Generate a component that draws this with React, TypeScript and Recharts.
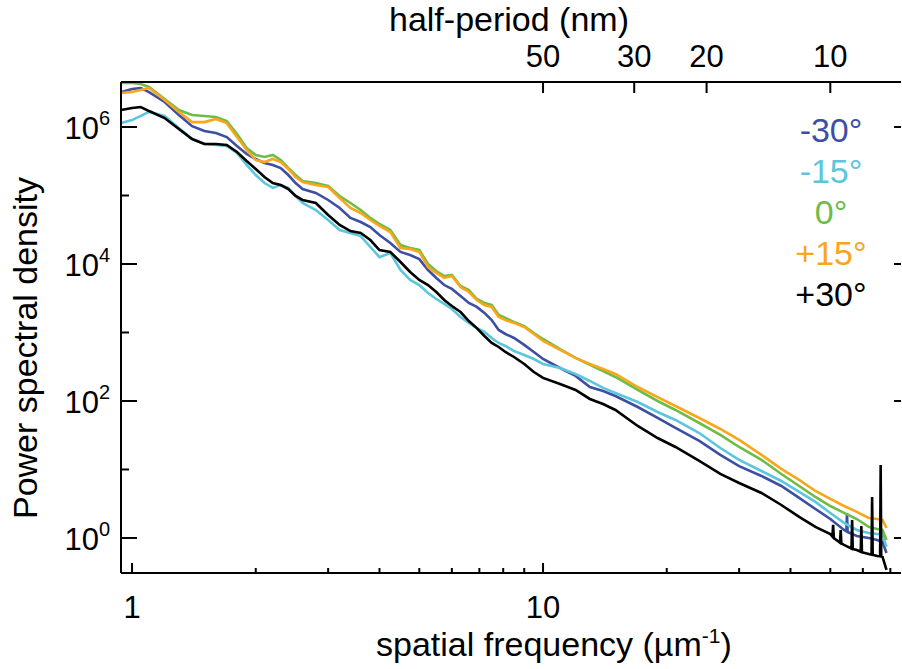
import React from 'react';
import { LineChart, Line, XAxis, YAxis } from 'recharts';

const FONT = '"Liberation Sans", Arial, Helvetica, sans-serif';

// spatial frequency grid (µm^-1)
const FREQ = [
  0.94, 1.0, 1.05, 1.1, 1.2, 1.3, 1.4, 1.5, 1.6, 1.7, 1.8, 1.9, 2.0, 2.1, 2.2, 2.3, 2.4, 2.5, 2.6, 2.8,
  3.0, 3.2, 3.4, 3.6, 3.8, 4.0, 4.25, 4.5, 4.75, 5.0, 5.25, 5.5, 5.75, 6.0, 6.3, 6.6, 6.9, 7.2, 7.5, 7.8,
  8.1, 8.5, 9, 9.5, 10, 11, 12, 13, 14, 15, 17, 19, 21, 24, 27, 30, 34, 38, 42, 46,
  50, 54, 58, 62, 65, 67, 68.5,
];

// power spectral density per tilt angle
const PSD_M30 = [
  3.24e6, 3.59e6, 3.71e6, 3.24e6, 2.32e6, 1.5e6, 1.03e6, 8.75e5, 8.17e5, 7.14e5,
  5.28e5, 4.03e5, 3.41e5, 2.98e5, 2.79e5, 2.52e5, 1.99e5, 1.52e5, 1.24e5, 1.09e5,
  8.6e4, 6.58e4, 4.7e4, 4.1e4, 3.47e4, 2.65e4, 2.03e4, 1.5e4, 1.35e4, 1.18e4,
  8.17e3, 6.25e3, 4.93e3, 4.32e3, 3.41e3, 2.7e3, 2.36e3, 1.93e3, 1.52e3, 1.09e3,
  951, 831, 658, 519, 410, 303, 232, 160, 140, 118,
  81.7, 56.5, 40.4, 26.1, 16.3, 11.2, 8.04, 5.74, 3.84, 2.65,
  1.89, 1.31, 1.07, 1.0, 0.935, 0.875, 0.604,
];
const PSD_M15 = [
  1.14e6, 1.26e6, 1.45e6, 1.66e6, 1.45e6, 9.67e5, 6.68e5, 5.65e5, 5.46e5, 5.28e5,
  4.17e5, 2.79e5, 1.99e5, 1.52e5, 1.29e5, 1.42e5, 1.29e5, 9.84e4, 7.78e4, 6.14e4,
  4.39e4, 3.14e4, 2.84e4, 2.56e4, 1.77e4, 1.26e4, 1.45e4, 8.17e3, 5.84e3, 4.93e3,
  3.77e3, 3.08e3, 2.61e3, 2.2e3, 1.68e3, 1.38e3, 1.16e3, 1.02e3, 831, 703,
  636, 537, 470, 410, 347, 303, 248, 196, 155, 131,
  96.7, 69.1, 52.8, 34.1, 20.6, 13.8, 9.51, 6.79, 4.7, 3.36,
  2.32, 1.66, 1.31, 1.18, 1.14, 1.11, 0.74,
];
const PSD_0 = [
  4.39e6, 4.39e6, 4.25e6, 3.84e6, 2.56e6, 1.77e6, 1.5e6, 1.45e6, 1.4e6, 1.22e6,
  7.9e5, 4.94e5, 3.9e5, 3.65e5, 3.9e5, 3.3e5, 2.52e5, 1.99e5, 1.63e5, 1.52e5,
  1.38e5, 9.84e4, 7.78e4, 6.14e4, 4.7e4, 3.84e4, 3.14e4, 1.89e4, 1.71e4, 1.6e4,
  1.0e4, 7.9e3, 6.68e3, 6.91e3, 4.77e3, 4.17e3, 3.08e3, 2.7e3, 2.52e3, 1.8e3,
  1.63e3, 1.42e3, 1.24e3, 984, 804, 574, 425, 336, 274, 224,
  145, 100, 73.9, 47.7, 31.9, 21.3, 13.8, 8.6, 5.74, 3.97,
  2.93, 2.32, 1.89, 1.45, 1.35, 1.31, 0.935,
];
const PSD_P15 = [
  3.13e6, 3.24e6, 3.47e6, 3.71e6, 2.48e6, 1.66e6, 1.18e6, 1.18e6, 1.31e6, 1.14e6,
  7.14e5, 4.62e5, 3.3e5, 3.08e5, 3.41e5, 3.08e5, 2.44e5, 1.86e5, 1.57e5, 1.42e5,
  1.33e5, 9.2e4, 6.58e4, 5.56e4, 4.39e4, 3.59e4, 2.93e4, 1.71e4, 1.66e4, 1.5e4,
  9.04e3, 7.39e3, 6.25e3, 6.68e3, 4.61e3, 3.9e3, 2.98e3, 2.52e3, 2.36e3, 1.68e3,
  1.52e3, 1.38e3, 1.2e3, 951, 752, 556, 425, 347, 293, 248,
  160, 114, 84.5, 56.5, 39.0, 27.0, 16.3, 10.2, 7.03, 4.85,
  3.71, 2.93, 2.4, 1.96, 1.89, 1.83, 1.4,
];
const PSD_P30 = [
  1.77e6, 1.89e6, 1.96e6, 1.71e6, 1.35e6, 9.35e5, 6.68e5, 5.65e5, 5.65e5, 5.46e5,
  4.32e5, 3.19e5, 2.44e5, 1.86e5, 1.52e5, 1.42e5, 1.24e5, 9.84e4, 8.6e4, 7.78e4,
  5.19e4, 3.71e4, 3.03e4, 2.84e4, 2.24e4, 1.6e4, 1.5e4, 1.07e4, 7.64e3, 5.84e3,
  4.93e3, 3.9e3, 2.98e3, 2.44e3, 1.99e3, 1.47e3, 1.16e3, 889, 703, 614,
  519, 439, 347, 265, 217, 177, 145, 107, 90.4, 73.9,
  43.2, 28.8, 21.3, 13.3, 8.6, 6.35, 4.54, 3.03, 2.03, 1.45,
  1.14, 0.791, 0.668, 0.584, 0.546, 0.528, 0.341,
];

// narrow spikes near the high-frequency end
const M30_SPIKE_F = [54.7, 54.9, 55.1];
const M30_SPIKE_P = [1.25, 2.3, 1.22];
const P30_SPIKE_F = [50.6, 50.8, 51.0, 52.8, 53.0, 53.2, 56.3, 56.5, 56.7, 59.3, 59.5, 59.7, 63.0, 63.2, 63.4, 66.1, 66.3, 66.5];
const P30_SPIKE_P = [1.05, 1.55, 1.0, 0.85, 1.3, 0.83, 0.7, 1.83, 0.69, 0.63, 1.5, 0.62, 0.57, 3.97, 0.57, 0.54, 11.6, 0.54];

const X_MAJOR = [1, 10];
const X_MINOR = [2, 3, 4, 5, 6, 7, 8, 9, 20, 30, 40, 50, 60, 70];
const Y_MAJOR = [1, 1e2, 1e4, 1e6];
const Y_MINOR = [10, 1e3, 1e5];
const HALF_PERIOD_TICKS = [50, 30, 20, 10]; // nm

const makeSeries = (vals: number[], extraF: number[] = [], extraP: number[] = []) =>
  FREQ.map((f, i) => ({ f, psd: vals[i] }))
    .concat(extraF.map((f, i) => ({ f, psd: extraP[i] })))
    .sort((a, b) => a.f - b.f);

const SERIES = [
  { name: '-30°', color: '#3d4fa3', data: makeSeries(PSD_M30, M30_SPIKE_F, M30_SPIKE_P) },
  { name: '-15°', color: '#5cc6dc', data: makeSeries(PSD_M15) },
  { name: '0°', color: '#6cbd45', data: makeSeries(PSD_0) },
  { name: '+15°', color: '#f9a61a', data: makeSeries(PSD_P15) },
  { name: '+30°', color: '#000000', data: makeSeries(PSD_P30, P30_SPIKE_F, P30_SPIKE_P) },
];

const TICK_FONT = 31;
const TITLE_FONT = 34;

const BottomTick = ({ x, y, payload }: any) => {
  const major = X_MAJOR.includes(payload.value);
  return (
    <g>
      <line x1={x} x2={x} y1={y} y2={y - (major ? 10 : 5)} stroke="#000" strokeWidth={2} />
      {major && (
        <text x={x} y={y + 45} textAnchor="middle" fontSize={TICK_FONT} fontFamily={FONT} fill="#000">
          {payload.value}
        </text>
      )}
    </g>
  );
};

const TopTick = ({ x, y, payload }: any) => (
  <g>
    <line x1={x} x2={x} y1={y} y2={y + 11} stroke="#000" strokeWidth={2} />
    <text x={x} y={y - 15} textAnchor="middle" fontSize={TICK_FONT} fontFamily={FONT} fill="#000">
      {Math.round(500 / payload.value)}
    </text>
  </g>
);

const LeftTick = ({ x, y, payload }: any) => {
  const major = Y_MAJOR.includes(payload.value);
  return (
    <g>
      <line x1={x} x2={x + (major ? 16 : 8)} y1={y} y2={y} stroke="#000" strokeWidth={2} />
      {major && (
        <text x={110} y={y + 12} textAnchor="end" fontSize={TICK_FONT} fontFamily={FONT} fill="#000">
          10
          <tspan fontSize={20} dy={-14}>{Math.round(Math.log10(payload.value))}</tspan>
        </text>
      )}
    </g>
  );
};

const RightTick = ({ x, y, payload }: any) =>
  Y_MAJOR.includes(payload.value) ? (
    <line x1={x} x2={x - 7} y1={y} y2={y} stroke="#000" strokeWidth={2} />
  ) : (
    <g />
  );

const X_DOMAIN = [0.94, 74.3];
const Y_DOMAIN = [0.308, 4.54e6];

export default function App() {
  return (
    <div style={{ position: 'absolute', left: 0, top: 0, width: 902, height: 669, background: '#fff' }}>
      <LineChart width={902} height={669} margin={{ top: 81, right: 0, bottom: 95, left: 120 }}>
        <XAxis
          xAxisId="bottom"
          dataKey="f"
          type="number"
          scale="log"
          domain={X_DOMAIN}
          allowDataOverflow
          ticks={[...X_MAJOR, ...X_MINOR].sort((a, b) => a - b)}
          interval={0}
          tick={BottomTick}
          tickLine={false}
          tickSize={0}
          tickMargin={0}
          height={1}
          axisLine={{ stroke: '#000', strokeWidth: 2 }}
        />
        <XAxis
          xAxisId="top"
          orientation="top"
          dataKey="f"
          type="number"
          scale="log"
          domain={X_DOMAIN}
          allowDataOverflow
          ticks={HALF_PERIOD_TICKS.map((hp) => 500 / hp)}
          interval={0}
          tick={TopTick}
          tickLine={false}
          tickSize={0}
          tickMargin={0}
          height={1}
          axisLine={{ stroke: '#000', strokeWidth: 2 }}
        />
        <YAxis
          yAxisId="left"
          type="number"
          scale="log"
          domain={Y_DOMAIN}
          allowDataOverflow
          ticks={[...Y_MAJOR, ...Y_MINOR].sort((a, b) => a - b)}
          interval={0}
          tick={LeftTick}
          tickLine={false}
          tickSize={0}
          tickMargin={0}
          width={1}
          axisLine={{ stroke: '#000', strokeWidth: 2 }}
        />
        <YAxis
          yAxisId="right"
          orientation="right"
          type="number"
          scale="log"
          domain={Y_DOMAIN}
          allowDataOverflow
          ticks={Y_MAJOR}
          interval={0}
          tick={RightTick}
          tickLine={false}
          tickSize={0}
          tickMargin={0}
          width={1}
          axisLine={false}
        />
        {SERIES.map((s) => (
          <Line
            key={s.name}
            xAxisId="bottom"
            yAxisId="left"
            data={s.data}
            dataKey="psd"
            type="linear"
            stroke={s.color}
            strokeWidth={2.6}
            dot={false}
            activeDot={false}
            isAnimationActive={false}
          />
        ))}
      </LineChart>
      <svg
        width={902}
        height={669}
        style={{ position: 'absolute', left: 0, top: 0, pointerEvents: 'none' }}
        fontFamily={FONT}
      >
        <text x={389} y={31} fontSize={TITLE_FONT} fill="#000">half-period (nm)</text>
        <text x={376} y={656} fontSize={TITLE_FONT} fill="#000">
          spatial frequency (µm
          <tspan fontSize={21} dy={-13}>-1</tspan>
          <tspan dy={13}>)</tspan>
        </text>
        <text
          transform="translate(37,348) rotate(-90)"
          textAnchor="middle"
          fontSize={TITLE_FONT}
          fill="#000"
        >
          Power spectral density
        </text>
        {SERIES.map((s, i) => (
          <text key={s.name} x={831} y={142 + i * 41} textAnchor="middle" fontSize={34} fill={s.color}>
            {s.name}
          </text>
        ))}
      </svg>
    </div>
  );
}
